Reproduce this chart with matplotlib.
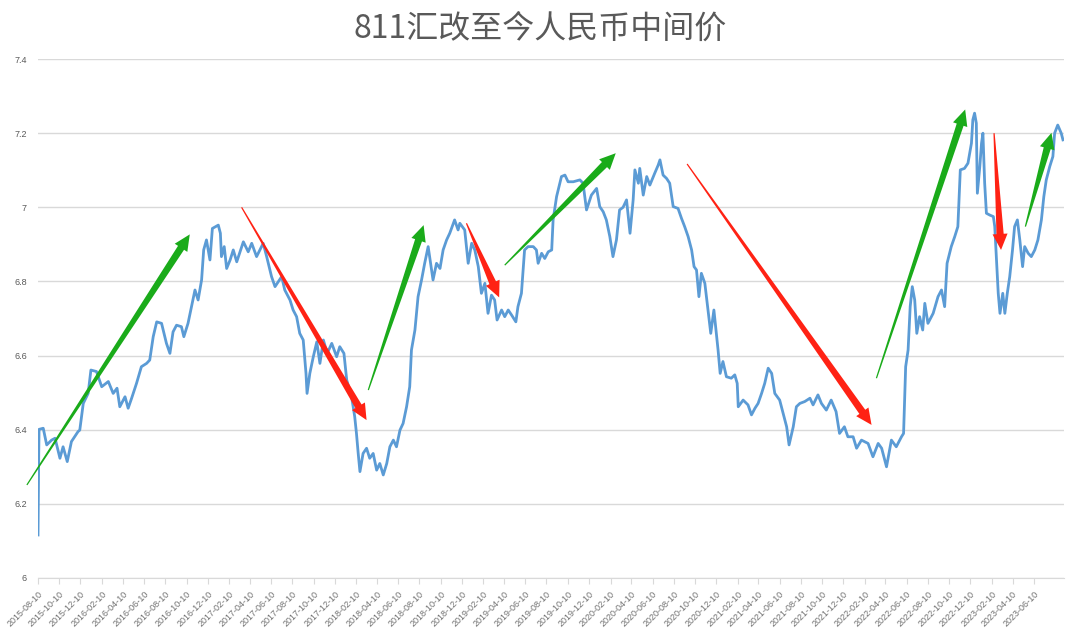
import numpy as np
import pandas as pd
import matplotlib
matplotlib.use('Agg')
import matplotlib.pyplot as plt
import matplotlib.dates as mdates
from matplotlib.patches import Polygon

plt.rcParams['font.family'] = ['Liberation Sans', 'DejaVu Sans']

# CNY central parity
dates = [
    '2015-08-10', '2015-08-11', '2015-08-12', '2015-08-13', '2015-08-25', '2015-09-04', '2015-09-18', '2015-09-28',
    '2015-10-12', '2015-10-21', '2015-11-02', '2015-11-14', '2015-12-03', '2015-12-08', '2015-12-18', '2016-01-01',
    '2016-01-09', '2016-01-25', '2016-02-09', '2016-02-28', '2016-03-13', '2016-03-24', '2016-04-01', '2016-04-16',
    '2016-04-25', '2016-05-05', '2016-05-19', '2016-06-02', '2016-06-17', '2016-06-26', '2016-07-06', '2016-07-16',
    '2016-07-30', '2016-08-13', '2016-08-23', '2016-09-01', '2016-09-11', '2016-09-25', '2016-10-02', '2016-10-14',
    '2016-10-24', '2016-11-03', '2016-11-12', '2016-11-22', '2016-11-28', '2016-12-06', '2016-12-16', '2016-12-23',
    '2017-01-09', '2017-01-15', '2017-01-18', '2017-01-26', '2017-02-02', '2017-02-12', '2017-02-21', '2017-03-03',
    '2017-03-22', '2017-04-05', '2017-04-15', '2017-04-29', '2017-05-18', '2017-05-28', '2017-06-11', '2017-06-21',
    '2017-07-10', '2017-07-19', '2017-08-03', '2017-08-12', '2017-08-22', '2017-08-31', '2017-09-10', '2017-09-18',
    '2017-09-21', '2017-09-29', '2017-10-09', '2017-10-19', '2017-10-28', '2017-11-07', '2017-11-18', '2017-12-01',
    '2017-12-15', '2017-12-24', '2018-01-05', '2018-01-13', '2018-01-27', '2018-02-05', '2018-02-10', '2018-02-15',
    '2018-02-20', '2018-03-01', '2018-03-11', '2018-03-20', '2018-03-30', '2018-04-09', '2018-04-18', '2018-04-28',
    '2018-05-08', '2018-05-17', '2018-05-27', '2018-06-05', '2018-06-15', '2018-06-24', '2018-07-04', '2018-07-13',
    '2018-07-18', '2018-07-28', '2018-08-06', '2018-08-16', '2018-08-25', '2018-09-04', '2018-09-14', '2018-09-18',
    '2018-09-28', '2018-10-08', '2018-10-17', '2018-10-27', '2018-11-05', '2018-11-19', '2018-11-29', '2018-12-04',
    '2018-12-18', '2018-12-28', '2019-01-07', '2019-01-16', '2019-01-26', '2019-02-04', '2019-02-14', '2019-02-23',
    '2019-03-05', '2019-03-14', '2019-03-21', '2019-04-03', '2019-04-12', '2019-04-22', '2019-05-02', '2019-05-14',
    '2019-05-20', '2019-05-30', '2019-06-08', '2019-06-18', '2019-07-03', '2019-07-12', '2019-07-17', '2019-07-27',
    '2019-08-05', '2019-08-15', '2019-08-25', '2019-08-29', '2019-09-08', '2019-09-22', '2019-10-02', '2019-10-11',
    '2019-10-26', '2019-11-14', '2019-11-23', '2019-12-03', '2019-12-17', '2020-01-01', '2020-01-10', '2020-01-20',
    '2020-01-29', '2020-02-08', '2020-02-17', '2020-02-27', '2020-03-07', '2020-03-17', '2020-03-27', '2020-04-06',
    '2020-04-15', '2020-04-20', '2020-04-30', '2020-05-04', '2020-05-14', '2020-05-24', '2020-06-02', '2020-06-16',
    '2020-06-26', '2020-07-01', '2020-07-10', '2020-07-20', '2020-07-29', '2020-08-08', '2020-08-22', '2020-09-01',
    '2020-09-10', '2020-09-20', '2020-09-30', '2020-10-07', '2020-10-14', '2020-10-21', '2020-10-28', '2020-11-07',
    '2020-11-16', '2020-11-24', '2020-12-03', '2020-12-10', '2020-12-15', '2020-12-21', '2020-12-29', '2021-01-08',
    '2021-01-22', '2021-02-01', '2021-02-08', '2021-02-11', '2021-02-25', '2021-03-11', '2021-03-21', '2021-03-31',
    '2021-04-09', '2021-04-19', '2021-04-28', '2021-05-08', '2021-05-18', '2021-05-27', '2021-06-10', '2021-06-20',
    '2021-06-30', '2021-07-07', '2021-07-19', '2021-07-28', '2021-08-07', '2021-08-21', '2021-09-05', '2021-09-14',
    '2021-09-28', '2021-10-08', '2021-10-22', '2021-11-05', '2021-11-19', '2021-11-29', '2021-12-13', '2021-12-23',
    '2022-01-07', '2022-01-17', '2022-01-31', '2022-02-19', '2022-03-05', '2022-03-20', '2022-03-30', '2022-04-13',
    '2022-04-27', '2022-05-11', '2022-05-26', '2022-06-01', '2022-06-07', '2022-06-14', '2022-06-20', '2022-06-26',
    '2022-07-03', '2022-07-09', '2022-07-17', '2022-07-26', '2022-08-01', '2022-08-10', '2022-08-25', '2022-09-08',
    '2022-09-18', '2022-09-27', '2022-10-04', '2022-10-16', '2022-10-26', '2022-11-04', '2022-11-11', '2022-11-23',
    '2022-12-03', '2022-12-13', '2022-12-17', '2022-12-22', '2022-12-27', '2022-12-30', '2023-01-06', '2023-01-11',
    '2023-01-15', '2023-01-20', '2023-01-25', '2023-02-04', '2023-02-14', '2023-02-18', '2023-02-23', '2023-02-28',
    '2023-03-05', '2023-03-13', '2023-03-19', '2023-03-26', '2023-04-02', '2023-04-10', '2023-04-16', '2023-04-24',
    '2023-05-01', '2023-05-09', '2023-05-15', '2023-05-25', '2023-06-03', '2023-06-13', '2023-06-22', '2023-07-02',
    '2023-07-09', '2023-07-16', '2023-07-26', '2023-08-04', '2023-08-09', '2023-08-18', '2023-08-28', '2023-09-02',
]
rates = [
    6.116, 6.230, 6.331, 6.401, 6.404, 6.359, 6.372, 6.377,
    6.323, 6.354, 6.314, 6.368, 6.395, 6.399, 6.471, 6.498,
    6.561, 6.557, 6.516, 6.530, 6.498, 6.512, 6.462, 6.489,
    6.458, 6.485, 6.525, 6.570, 6.579, 6.588, 6.651, 6.691,
    6.687, 6.633, 6.606, 6.664, 6.682, 6.678, 6.651, 6.687,
    6.732, 6.777, 6.750, 6.804, 6.885, 6.912, 6.858, 6.943,
    6.952, 6.930, 6.867, 6.894, 6.835, 6.858, 6.885, 6.853,
    6.907, 6.880, 6.903, 6.867, 6.903, 6.867, 6.813, 6.786,
    6.813, 6.777, 6.750, 6.723, 6.705, 6.660, 6.642, 6.552,
    6.498, 6.552, 6.597, 6.637, 6.579, 6.642, 6.606, 6.633,
    6.597, 6.624, 6.606, 6.534, 6.489, 6.435, 6.390, 6.336,
    6.287, 6.336, 6.350, 6.323, 6.336, 6.291, 6.309, 6.278,
    6.309, 6.354, 6.372, 6.354, 6.399, 6.417, 6.462, 6.516,
    6.615, 6.669, 6.759, 6.804, 6.849, 6.894, 6.831, 6.804,
    6.849, 6.835, 6.885, 6.912, 6.930, 6.966, 6.939, 6.957,
    6.939, 6.849, 6.903, 6.885, 6.840, 6.768, 6.795, 6.714,
    6.763, 6.750, 6.696, 6.723, 6.705, 6.723, 6.709, 6.691,
    6.732, 6.768, 6.885, 6.894, 6.894, 6.885, 6.849, 6.876,
    6.862, 6.880, 6.885, 6.966, 7.029, 7.083, 7.087, 7.069,
    7.069, 7.074, 7.065, 6.993, 7.033, 7.051, 7.002, 6.988,
    6.966, 6.921, 6.867, 6.912, 6.993, 7.000, 7.020, 6.930,
    7.020, 7.101, 7.065, 7.105, 7.033, 7.083, 7.060, 7.092,
    7.114, 7.128, 7.087, 7.078, 7.065, 7.002, 6.997, 6.970,
    6.948, 6.921, 6.885, 6.840, 6.831, 6.759, 6.822, 6.795,
    6.723, 6.660, 6.723, 6.660, 6.615, 6.552, 6.584, 6.543,
    6.539, 6.548, 6.525, 6.462, 6.480, 6.467, 6.440, 6.458,
    6.471, 6.498, 6.525, 6.566, 6.552, 6.498, 6.480, 6.444,
    6.408, 6.359, 6.408, 6.462, 6.471, 6.476, 6.485, 6.467,
    6.494, 6.471, 6.453, 6.480, 6.449, 6.390, 6.408, 6.381,
    6.381, 6.350, 6.372, 6.363, 6.327, 6.363, 6.350, 6.300,
    6.372, 6.354, 6.381, 6.390, 6.570, 6.615, 6.732, 6.786,
    6.750, 6.660, 6.705, 6.669, 6.741, 6.687, 6.714, 6.759,
    6.777, 6.732, 6.849, 6.894, 6.921, 6.948, 7.101, 7.105,
    7.119, 7.173, 7.236, 7.254, 7.227, 7.038, 7.110, 7.173,
    7.200, 7.065, 6.984, 6.979, 6.975, 6.948, 6.858, 6.768,
    6.714, 6.768, 6.714, 6.768, 6.813, 6.885, 6.948, 6.966,
    6.912, 6.840, 6.894, 6.876, 6.867, 6.885, 6.912, 6.966,
    7.029, 7.074, 7.110, 7.137, 7.200, 7.222, 7.200, 7.182,
]

# trend arrows: (start date, start value, end date, end value)
green_arrows = [
    ('2015-07-09', 6.251, '2016-10-19', 6.927),
    ('2018-03-16', 6.507, '2018-08-22', 6.952),
    ('2019-04-12', 6.844, '2020-02-25', 7.146),
    ('2022-03-15', 6.539, '2022-11-25', 7.264),
    ('2023-05-17', 6.948, '2023-07-31', 7.201),
]
red_arrows = [
    ('2017-03-17', 7.000, '2018-03-11', 6.426),
    ('2018-12-23', 6.957, '2019-03-27', 6.757),
    ('2020-09-17', 7.117, '2022-03-01', 6.413),
    ('2023-02-16', 7.200, '2023-03-08', 6.885),
]

y_ticks = [6, 6.2, 6.4, 6.6, 6.8, 7, 7.2, 7.4]
y_labels = ['6', '6.2', '6.4', '6.6', '6.8', '7', '7.2', '7.4']
x_ticks = pd.date_range('2015-08-01', '2023-06-01', freq='2MS') + pd.Timedelta(days=9)

fig = plt.figure(figsize=(10.8, 6.29), dpi=100)
ax = fig.add_axes([0.0352, 0.0811, 0.9500, 0.8250])

ax.plot(pd.to_datetime(dates), rates, color='#5b9bd5', lw=2.0, solid_joinstyle='round')

ax.set_xlim(pd.Timestamp('2015-08-10'), pd.Timestamp('2023-09-05'))
ax.set_ylim(6, 7.4)
ax.set_yticks(y_ticks)
ax.set_yticklabels(y_labels)
ax.set_xticks(x_ticks)
ax.xaxis.set_major_formatter(mdates.DateFormatter('%Y-%m-%d'))
plt.setp(ax.get_xticklabels(), rotation=45, ha='right', rotation_mode='anchor')

ax.grid(axis='y', color='#d9d9d9', lw=1)
ax.set_axisbelow(True)
for s in ['top', 'right', 'left']:
    ax.spines[s].set_visible(False)
ax.spines['bottom'].set_color('#d9d9d9')
ax.tick_params(axis='y', length=0, labelsize=6.5, labelcolor='#595959', pad=8)
ax.tick_params(axis='x', length=4, color='#d9d9d9', labelsize=6.5, labelcolor='#707070', pad=4)

fig.text(0.5, 0.954, '811汇改至今人民币中间价', ha='center', va='center', fontsize=23,
         color='#595959', family=['Noto Sans CJK SC', 'DejaVu Sans'])


def draw_arrow(x0, y0, x1, y1, color):
    # tapered arrow built in pixel space, then mapped back to data space
    p0 = ax.transData.transform((mdates.date2num(pd.Timestamp(x0)), y0))
    p1 = ax.transData.transform((mdates.date2num(pd.Timestamp(x1)), y1))
    d = p1 - p0
    L = np.hypot(*d)
    u = d / L
    n = np.array([-u[1], u[0]])
    head_len, head_w, w0, w1 = 16, 7.5, 0.6, 3.6
    base = p1 - u * head_len
    pts = [p0 + n * w0, base + n * w1, base + n * head_w, p1,
           base - n * head_w, base - n * w1, p0 - n * w0]
    pts = ax.transData.inverted().transform(np.array(pts))
    ax.add_patch(Polygon(pts, closed=True, fc=color, ec='none', clip_on=False, zorder=3))


for a in green_arrows:
    draw_arrow(*a, color='#1aab1a')
for a in red_arrows:
    draw_arrow(*a, color='#ff2214')

fig.savefig('out.png', dpi=100)
